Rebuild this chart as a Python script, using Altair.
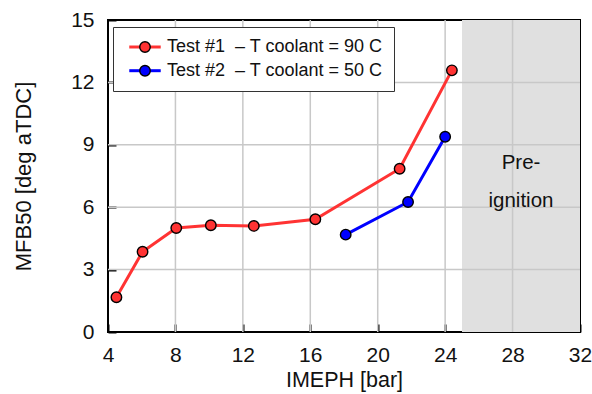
import altair as alt
import pandas as pd

# Test #1: coolant temperature 90 C
imeph_90 = [4.5, 6.05, 8.05, 10.1, 12.65, 16.3, 21.3, 24.4]
mfb50_90 = [1.67, 3.86, 5.0, 5.13, 5.1, 5.42, 7.85, 12.58]
# Test #2: coolant temperature 50 C
imeph_50 = [18.1, 21.8, 24.0]
mfb50_50 = [4.68, 6.25, 9.39]

series_names = ["Test #1\u00a0 – T coolant = 90 C", "Test #2\u00a0 – T coolant = 50 C"]
series_colors = ["#ff3333", "#0000ff"]

x_ticks = [4, 8, 12, 16, 20, 24, 28, 32]
y_ticks = [0, 3, 6, 9, 12, 15]

# pre-ignition zone
zone_start = [25]
zone_end = [32]
ann_text = ["Pre-", "ignition"]
ann_x = [28.5, 28.5]
ann_y = [7.84, 6.0]

FONT = "Liberation Sans"

rows = []
for name, xs, ys in [(series_names[0], imeph_90, mfb50_90), (series_names[1], imeph_50, mfb50_50)]:
    for i, (xv, yv) in enumerate(zip(xs, ys)):
        rows.append({"series": name, "marker": name, "imeph": xv, "mfb50": yv, "order": i})
df = pd.DataFrame(rows)

zone_df = pd.DataFrame({"x0": zone_start, "x1": zone_end, "y0": [y_ticks[0]], "y1": [y_ticks[-1]]})
gx_df = pd.DataFrame({"gx": [v for v in x_ticks if x_ticks[0] < v < x_ticks[-1]]})
gy_df = pd.DataFrame({"gy": [v for v in y_ticks if y_ticks[0] < v < y_ticks[-1]]})
ann_df = pd.DataFrame({"label": ann_text, "ax": ann_x, "ay": ann_y})

xscale = alt.Scale(domain=[x_ticks[0], x_ticks[-1]], nice=False, zero=False)
yscale = alt.Scale(domain=[y_ticks[0], y_ticks[-1]], nice=False, zero=False)
xaxis = alt.Axis(values=x_ticks, title="IMEPH [bar]", labelPadding=12, titlePadding=4,
                 labelFlush=False, titleFontSize=21.5)
yaxis = alt.Axis(values=y_ticks, title="MFB50 [deg aTDC]", labelPadding=14, titlePadding=35,
                 titleFontSize=22)


def X(field):
    return alt.X(field, type="quantitative", scale=xscale, axis=xaxis)


def Y(field):
    return alt.Y(field, type="quantitative", scale=yscale, axis=yaxis)


zone = alt.Chart(zone_df).mark_rect(color="#e0e0e0").encode(
    x=X("x0"), x2="x1", y=Y("y0"), y2="y1"
)

grid_v = alt.Chart(gx_df).mark_rule(color="#c8c8c8", strokeWidth=1.5).encode(x=X("gx"))
grid_h = alt.Chart(gy_df).mark_rule(color="#c8c8c8", strokeWidth=1.5).encode(y=Y("gy"))

labels = alt.Chart(ann_df).mark_text(
    font=FONT, fontSize=20.5, color="#111", align="center", baseline="alphabetic"
).encode(x=X("ax"), y=Y("ay"), text="label:N")

# shared legend geometry (line legend draws the box, marker legend overlays circles)
LEG = dict(orient="none", legendX=5, legendY=7, title=None, symbolSize=110,
           padding=11, rowPadding=5.7, symbolOffset=12,
           labelFont=FONT, labelFontSize=18, labelLimit=400, labelOffset=13)

lines = alt.Chart(df).mark_line(strokeWidth=3).encode(
    x=X("imeph"),
    y=Y("mfb50"),
    order="order:Q",
    color=alt.Color(
        "series:N",
        scale=alt.Scale(range=series_colors),
        legend=alt.Legend(
            symbolType="M-3,0H3", symbolStrokeWidth=3,
            labelColor="#111",
            fillColor="white", strokeColor="#333",
            zindex=0, **LEG,
        ),
    ),
)

points = alt.Chart(df).mark_circle(size=110, stroke="black", strokeWidth=1.4, opacity=1).encode(
    x=X("imeph"),
    y=Y("mfb50"),
    fill=alt.Fill(
        "marker:N",
        scale=alt.Scale(range=series_colors),
        legend=alt.Legend(
            symbolType="circle", symbolStrokeColor="black", symbolStrokeWidth=1.4,
            symbolOpacity=1, labelOpacity=0,
            zindex=1, **LEG,
        ),
    ),
)

chart = (
    alt.layer(zone, grid_v, grid_h, labels, lines, points)
    .properties(
        width=472, height=312,
        autosize=alt.AutoSizeParams(type="none"),
        padding={"left": 108, "top": 20, "right": 12, "bottom": 62},
        background="white",
    )
    .configure_view(stroke="black", strokeWidth=2)
    .configure_axis(
        grid=False, domain=False, offset=-8, tickSize=8, tickWidth=2, tickColor="black",
        labelFont=FONT, labelFontSize=21, labelColor="#111",
        titleFont=FONT, titleFontWeight="normal", titleColor="#111",
    )
)

chart.save("out.html", embed_options={"renderer": "svg", "actions": False})
